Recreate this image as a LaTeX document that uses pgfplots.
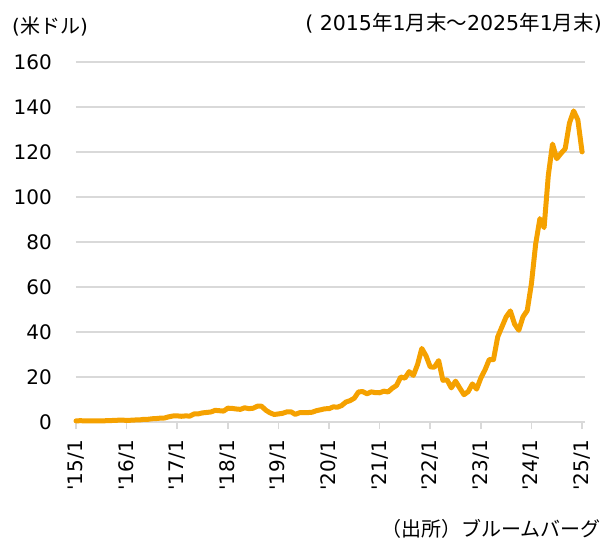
\documentclass[border=0pt]{standalone}
\usepackage{pgfplots}
\pgfplotsset{compat=1.18}
\usepackage{pgfplotstable}
\usepackage{fontspec}
\setmainfont{DejaVu Sans}
\newfontfamily\jp{Noto Sans CJK JP}
\definecolor{lineor}{RGB}{245,161,0}
\definecolor{gridg}{RGB}{217,217,217}

\pgfplotstableread{
m v
0 0.50
1 0.58
2 0.52
3 0.555
4 0.55
5 0.50
6 0.50
7 0.56
8 0.62
9 0.71
10 0.79
11 0.82
12 0.73
13 0.78
14 0.89
15 0.89
16 1.17
17 1.18
18 1.43
19 1.53
20 1.71
21 1.78
22 2.31
23 2.67
24 2.73
25 2.54
26 2.72
27 2.61
28 3.60
29 3.61
30 4.06
31 4.24
32 4.47
33 5.17
34 5.02
35 4.84
36 6.14
37 6.04
38 5.79
39 5.62
40 6.32
41 5.92
42 6.12
43 7.02
44 7.03
45 5.27
46 4.09
47 3.34
48 3.59
49 3.86
50 4.49
51 4.52
52 3.39
53 4.11
54 4.22
55 4.19
56 4.35
57 5.03
58 5.42
59 5.88
60 5.91
61 6.73
62 6.59
63 7.31
64 8.88
65 9.50
66 10.60
67 13.37
68 13.53
69 12.53
70 13.40
71 13.05
72 12.99
73 13.71
74 13.35
75 15.01
76 16.25
77 20.00
78 19.50
79 22.38
80 20.72
81 25.57
82 32.68
83 29.41
84 24.49
85 24.37
86 27.29
87 18.54
88 18.69
89 15.16
90 18.16
91 15.09
92 12.14
93 13.50
94 16.92
95 14.61
96 19.54
97 23.22
98 27.78
99 27.75
100 37.82
101 42.30
102 46.73
103 49.35
104 43.50
105 40.78
106 46.77
107 49.52
108 61.53
109 79.11
110 90.36
111 86.40
112 109.63
113 123.54
114 117.02
115 119.37
116 121.44
117 132.76
118 138.25
119 134.29
120 120.07
}\nvda

\begin{document}
\begin{tikzpicture}
\useasboundingbox (-76bp,-116bp) rectangle (528bp,422bp);
\begin{axis}[
  at={(0,0)}, anchor=origin,
  scale only axis,
  width=509bp, height=360bp,
  xmin=0, xmax=120.7,
  ymin=0, ymax=160,
  axis x line*=bottom,
  axis y line*=left,
  x axis line style={draw=gridg, line width=1.5bp},
  y axis line style={draw=none},
  ymajorgrids,
  grid style={draw=gridg, line width=1.5bp},
  ytick={0,20,...,160},
  xtick={0,12,...,120},
  xticklabels={{\textquotesingle15/1},{\textquotesingle16/1},{\textquotesingle17/1},{\textquotesingle18/1},{\textquotesingle19/1},{\textquotesingle20/1},{\textquotesingle21/1},{\textquotesingle22/1},{\textquotesingle23/1},{\textquotesingle24/1},{\textquotesingle25/1}},
  xtick align=outside,
  major tick length=7bp,
  xtick style={draw=gridg, line width=1.5bp},
  ytick style={draw=none},
  /pgf/number format/assume math mode=true,
  ticklabel style={font=\fontsize{20bp}{24bp}\selectfont, text=black},
  yticklabel style={anchor=east, inner sep=0pt, xshift=-24bp},
  xticklabel style={inner sep=0pt, yshift=-11bp, rotate=90, anchor=east},
  clip=false,
]
\addplot[color=lineor, line width=5bp, line join=round, line cap=round] table[x=m, y=v] {\nvda};
\end{axis}
\node[anchor=west, inner sep=0pt, font=\fontsize{20bp}{24bp}\selectfont] at (-64bp,396bp) {({\jp 米ドル})};
\node[anchor=east, inner sep=0pt, font=\fontsize{20.5bp}{24bp}\selectfont] at (526bp,399bp) {( 2015{\jp 年}1{\jp 月末～}2025{\jp 年}1{\jp 月末})};
\node[anchor=east, inner sep=0pt, font=\jp\fontsize{20bp}{24bp}\selectfont] at (525bp,-107bp) {（出所）ブルームバーグ};
\end{tikzpicture}
\end{document}
